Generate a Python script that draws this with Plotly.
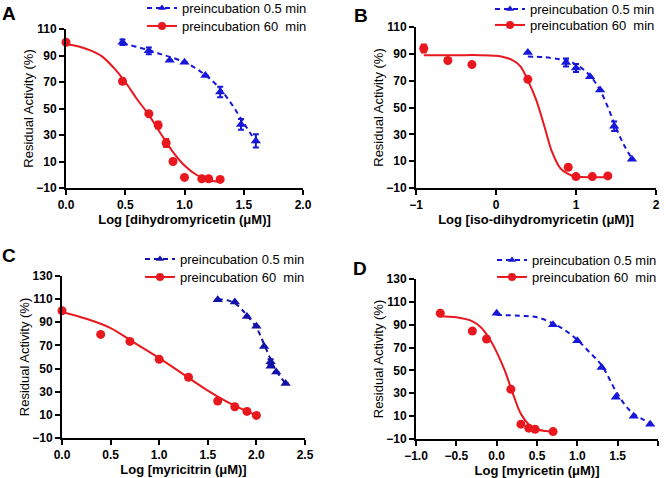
import plotly.graph_objects as go

# ---------------- data ----------------
# Panel A : dihydromyricetin
a_blue_x = [0.477, 0.699, 0.875, 1.0, 1.176, 1.301, 1.477, 1.602]
a_blue_y = [100, 93.5, 86.5, 85, 75, 62.5, 38, 25.5]
a_blue_err = [2, 2.5, 0, 0, 0, 4, 4, 5]
a_red_x = [0, 0.477, 0.699, 0.778, 0.845, 0.903, 1.0, 1.146, 1.204, 1.301]
a_red_y = [100, 70.5, 46, 37.5, 24, 10, -2, -3, -3, -3.5]
a_red_err = [0, 2, 0, 2.5, 3, 0, 0, 0, 0, 1]
a_blue_fit_x = [0.477, 0.6, 0.7, 0.8, 0.875, 1.0, 1.1, 1.2, 1.3, 1.4, 1.5, 1.602]
a_blue_fit_y = [99, 96.5, 94, 91, 89, 85, 80, 73.5, 65, 53, 39, 25]
a_red_fit_x = [0, 0.1, 0.2, 0.3, 0.4, 0.5, 0.6, 0.7, 0.8, 0.9, 1.0, 1.1, 1.2, 1.3]
a_red_fit_y = [98.5, 97, 94, 89.5, 81, 70, 57, 45, 31, 17.5, 7, 0, -4, -5.5]

# Panel B : iso-dihydromyricetin
b_blue_x = [0.398, 0.875, 1.0, 1.176, 1.301, 1.477, 1.699]
b_blue_y = [91, 83.5, 79.5, 73, 63, 36, 11.5]
b_blue_err = [0, 3, 3, 0, 0, 3.5, 0]
b_red_x = [-0.903, -0.602, -0.301, 0.398, 0.903, 1.0, 1.204, 1.398]
b_red_y = [94, 85, 82, 71, 5.5, -1.5, -1.5, -1]
b_red_err = [3, 0, 0, 0, 0, 1.5, 0, 0]
b_blue_fit_x = [0.398, 0.6, 0.8, 0.9, 1.0, 1.1, 1.2, 1.3, 1.4, 1.5, 1.6, 1.699]
b_blue_fit_y = [88, 87.5, 86, 85, 82, 78, 72, 63, 50, 35, 22, 12]
b_red_fit_x = [-0.903, -0.5, -0.2, 0.0, 0.1, 0.2, 0.3, 0.4, 0.5, 0.6, 0.7, 0.8, 0.9, 1.0, 1.2, 1.398]
b_red_fit_y = [89, 89, 89, 88.5, 87.5, 85.5, 81, 70, 56, 37, 17, 5, 0.5, -1.5, -2, -2]

# Panel C : myricitrin
c_blue_x = [1.602, 1.778, 1.903, 2.0, 2.079, 2.146, 2.146, 2.204, 2.301]
c_blue_y = [109.5, 107.5, 95, 86.5, 69, 56, 52, 47, 37]
c_blue_err = [0, 0, 0, 0, 0, 2, 0, 0, 0]
c_red_x = [0, 0.398, 0.699, 1.0, 1.301, 1.602, 1.778, 1.903, 2.0]
c_red_y = [100, 79.5, 73.5, 58, 42.5, 22, 17, 13, 9.5]
c_blue_fit_x = [1.602, 1.7, 1.778, 1.85, 1.903, 2.0, 2.079, 2.146, 2.204, 2.301]
c_blue_fit_y = [110, 109, 106.5, 101, 96, 85.5, 71, 58, 48, 37]
c_red_fit_x = [0, 0.25, 0.5, 0.75, 1.0, 1.25, 1.5, 1.75, 2.0]
c_red_fit_y = [99, 93, 85, 72, 59, 45, 31, 19, 9.5]

# Panel D : myricetin
d_blue_x = [0, 0.699, 1.0, 1.301, 1.477, 1.699, 1.903]
d_blue_y = [100, 90, 76, 52.5, 26.5, 10, 3]
d_red_x = [-0.699, -0.301, -0.125, 0.176, 0.301, 0.398, 0.477, 0.699]
d_red_y = [100, 84.5, 77.5, 33.5, 3, -0.5, -1.5, -3.5]
d_blue_fit_x = [0, 0.3, 0.5, 0.7, 0.85, 1.0, 1.15, 1.3, 1.477, 1.6, 1.699, 1.903]
d_blue_fit_y = [98.5, 97.8, 96.5, 91, 85, 76.7, 66, 54.6, 32, 19, 12, 3.7]
d_red_fit_x = [-0.699, -0.5, -0.3, -0.2, -0.1, 0.0, 0.1, 0.2, 0.3, 0.4, 0.5, 0.6, 0.699]
d_red_fit_y = [97.5, 96.5, 93, 88, 79, 66, 50, 30, 12, 2.5, -1.5, -3, -3.5]

panel_letters = ["A", "B", "C", "D"]
x_titles = ["Log [dihydromyricetin (μM)]", "Log [iso-dihydromyricetin (μM)]",
            "Log [myricitrin (μM)]", "Log [myricetin (μM)]"]
y_title = "Residual Activity (%)"
legend_names = ["preincubation 0.5 min", "preincubation 60  min"]

BLUE = "#1717D9"
BLUE_DARK = "#1212A8"
RED = "#E8181E"
DASH = "5px,4px"
FONT = "Liberation Sans, Arial, sans-serif"

panels = [
    dict(bx=a_blue_x, by=a_blue_y, be=a_blue_err, rx=a_red_x, ry=a_red_y, re=a_red_err,
         bfx=a_blue_fit_x, bfy=a_blue_fit_y, rfx=a_red_fit_x, rfy=a_red_fit_y, blue=BLUE,
         xr=[0, 2], xt=[0, 0.5, 1.0, 1.5, 2.0], xfmt=".1f", yr=[-10, 110],
         dom_x=[66, 303], dom_y=[29, 188], leg=(182, 6, 24)),
    dict(bx=b_blue_x, by=b_blue_y, be=b_blue_err, rx=b_red_x, ry=b_red_y, re=b_red_err,
         bfx=b_blue_fit_x, bfy=b_blue_fit_y, rfx=b_red_fit_x, rfy=b_red_fit_y, blue=BLUE,
         xr=[-1, 2], xt=[-1, 0, 1, 2], xfmt="d", yr=[-10, 110],
         dom_x=[416, 656], dom_y=[27, 188], leg=(530, 7, 23)),
    dict(bx=c_blue_x, by=c_blue_y, be=c_blue_err, rx=c_red_x, ry=c_red_y, re=None,
         bfx=c_blue_fit_x, bfy=c_blue_fit_y, rfx=c_red_fit_x, rfy=c_red_fit_y, blue=BLUE_DARK,
         xr=[0, 2.5], xt=[0, 0.5, 1.0, 1.5, 2.0, 2.5], xfmt=".1f", yr=[-10, 130],
         dom_x=[62, 305], dom_y=[276, 438], leg=(180, 257, 275)),
    dict(bx=d_blue_x, by=d_blue_y, be=None, rx=d_red_x, ry=d_red_y, re=None,
         bfx=d_blue_fit_x, bfy=d_blue_fit_y, rfx=d_red_fit_x, rfy=d_red_fit_y, blue=BLUE,
         xr=[-1, 2], xt=[-1.0, -0.5, 0, 0.5, 1.0, 1.5, 2.0], xfmt=".1f", yr=[-10, 130],
         dom_x=[416, 658], dom_y=[279, 439], leg=(532, 258, 275)),
]
letter_pos = [(9, 13), (361, 15), (9, 256), (360, 268)]

W, H = 666, 478
fig = go.Figure()
layout = dict(width=W, height=H, margin=dict(l=0, r=0, t=0, b=0, autoexpand=False),
              paper_bgcolor="white", plot_bgcolor="white",
              font=dict(family=FONT, color="black"), annotations=[])

for i, p in enumerate(panels):
    n = "" if i == 0 else str(i + 1)
    xa, ya = "x" + n, "y" + n
    lg1 = "legend" + ("" if i == 0 else str(2 * i + 1))
    lg2 = "legend" + str(2 * i + 2)
    bc = p["blue"]
    # fitted curves
    fig.add_trace(go.Scatter(x=p["bfx"], y=p["bfy"], mode="lines", line_shape="spline",
                             line=dict(color=bc, width=2, dash=DASH),
                             xaxis=xa, yaxis=ya, showlegend=False, hoverinfo="skip",
                             cliponaxis=False))
    fig.add_trace(go.Scatter(x=p["rfx"], y=p["rfy"], mode="lines", line_shape="spline",
                             line=dict(color=RED, width=2),
                             xaxis=xa, yaxis=ya, showlegend=False, hoverinfo="skip",
                             cliponaxis=False))
    # data points
    eb = dict(type="data", array=p["be"], color=bc, thickness=2, width=3) if p["be"] else None
    er = dict(type="data", array=p["re"], color=RED, thickness=2, width=3) if p["re"] else None
    fig.add_trace(go.Scatter(x=p["bx"], y=p["by"], mode="markers", error_y=eb,
                             marker=dict(symbol="triangle-up", size=9, color=bc),
                             xaxis=xa, yaxis=ya, showlegend=False, cliponaxis=False))
    fig.add_trace(go.Scatter(x=p["rx"], y=p["ry"], mode="markers", error_y=er,
                             marker=dict(symbol="circle", size=9, color=RED),
                             xaxis=xa, yaxis=ya, showlegend=False, cliponaxis=False))
    # legend entries (one legend box per entry for exact placement)
    fig.add_trace(go.Scatter(x=[None], y=[None], mode="lines+markers", name=legend_names[0],
                             line=dict(color=bc, width=2, dash=DASH),
                             marker=dict(symbol="triangle-up", size=7, color=bc),
                             xaxis=xa, yaxis=ya, legend=lg1))
    fig.add_trace(go.Scatter(x=[None], y=[None], mode="lines+markers", name=legend_names[1],
                             line=dict(color=RED, width=2),
                             marker=dict(symbol="circle", size=8, color=RED),
                             xaxis=xa, yaxis=ya, legend=lg2))

    dx = [p["dom_x"][0] / W, p["dom_x"][1] / W]
    dy = [1 - p["dom_y"][1] / H, 1 - p["dom_y"][0] / H]
    axis_common = dict(showline=True, linecolor="black", linewidth=2, ticks="outside",
                       ticklen=5, tickwidth=2, tickcolor="black", showgrid=False,
                       zeroline=False, tickfont=dict(family=FONT, size=12, weight="bold"))
    layout["xaxis" + n] = dict(axis_common, domain=dx, anchor=ya, range=p["xr"],
                               tickvals=p["xt"], tickformat=p["xfmt"],
                               title=dict(text=x_titles[i], standoff=2,
                                          font=dict(family=FONT, size=13, weight="bold")))
    yt = list(range(p["yr"][0], p["yr"][1] + 1, 20))
    layout["yaxis" + n] = dict(axis_common, domain=dy, anchor=xa, range=p["yr"],
                               tickvals=yt,
                               title=dict(text=y_title, standoff=0,
                                          font=dict(family=FONT, size=13)))
    tx, r1, r2 = p["leg"]
    for lg, rc in ((lg1, r1), (lg2, r2)):
        layout[lg] = dict(x=(tx - 40) / W, y=1 - (rc - 13) / H, xanchor="left", yanchor="top",
                          bgcolor="rgba(0,0,0,0)", font=dict(family=FONT, size=13),
                          itemwidth=30)
    layout["annotations"].append(dict(text="<b>" + panel_letters[i] + "</b>", x=letter_pos[i][0] / W,
                                      y=1 - letter_pos[i][1] / H, xref="paper", yref="paper",
                                      xanchor="center", yanchor="middle",
                                      showarrow=False, font=dict(family=FONT, size=19)))

fig.update_layout(**layout)
fig.write_html("out.html", config={"displayModeBar": False},
               post_script="document.body.style.margin='0px';")
